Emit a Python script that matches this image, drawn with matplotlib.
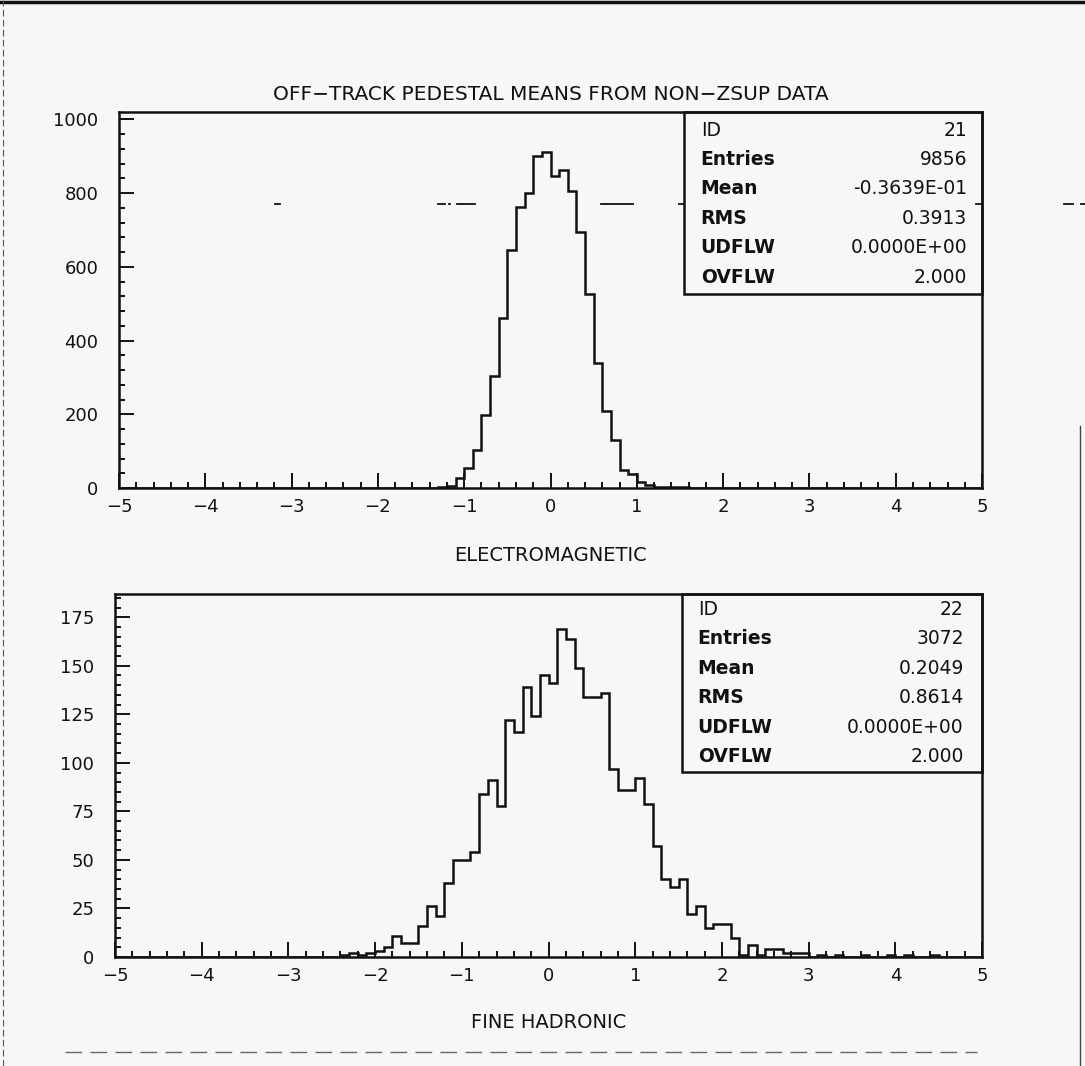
import numpy as np
import matplotlib
matplotlib.use("Agg")
import matplotlib.pyplot as plt
from matplotlib.lines import Line2D
from matplotlib.patches import Rectangle
from matplotlib.ticker import MultipleLocator

# histogram contents, 100 bins of 0.1 from -5 to 5
x_lo, x_hi, n_bins = -5.0, 5.0, 100

em_counts = [
    0, 0, 0, 0, 0, 0, 0, 0, 0, 0,
    0, 0, 0, 0, 0, 0, 0, 0, 0, 0,
    0, 0, 0, 0, 0, 0, 0, 0, 0, 0,
    0, 0, 0, 0, 0, 0, 1, 2, 5, 26,
    53, 102, 198, 304, 462, 646, 762, 799, 900, 912,
    846, 863, 806, 695, 525, 339, 208, 130, 49, 38,
    16, 7, 4, 3, 2, 2, 1, 1, 1, 0,
    0, 0, 0, 0, 0, 0, 0, 0, 0, 0,
    0, 0, 0, 0, 0, 0, 0, 0, 0, 0,
    0, 0, 0, 0, 0, 0, 0, 0, 0, 0,
]

had_counts = [
    0, 0, 0, 0, 0, 0, 0, 0, 0, 0,
    0, 0, 0, 0, 0, 0, 0, 0, 0, 0,
    0, 0, 0, 0, 0, 0, 1, 2, 1, 2,
    3, 5, 11, 7, 7, 16, 26, 21, 38, 50,
    50, 54, 84, 91, 78, 122, 116, 139, 124, 145,
    141, 169, 164, 149, 134, 134, 136, 97, 86, 86,
    92, 79, 57, 40, 36, 40, 22, 26, 15, 17,
    17, 10, 1, 6, 1, 4, 4, 2, 2, 2,
    0, 1, 0, 1, 0, 0, 1, 0, 0, 1,
    0, 1, 0, 0, 1, 0, 0, 0, 0, 0,
]

stat_names = ["ID", "Entries", "Mean", "RMS", "UDFLW", "OVFLW"]
em_stats = ["21", "9856", "-0.3639E-01", "0.3913", "0.0000E+00", "2.000"]
had_stats = ["22", "3072", "0.2049", "0.8614", "0.0000E+00", "2.000"]

# stray dash-dot streak from the scan, upper panel (data x spans)
streak_level = 770
streak_spans = [(-3.19, -3.13), (-1.30, -1.22), (-1.18, -1.16), (-1.08, -0.87),
                (0.58, 0.96), (1.49, 1.55), (4.93, 4.99), (5.95, 6.05), (6.15, 6.22)]

edges = np.linspace(x_lo, x_hi, n_bins + 1)

ink = "#111111"
paper = "#f7f7f7"
plt.rcParams["font.family"] = ["DejaVu Sans"]

fig = plt.figure(figsize=(10.85, 10.66), dpi=100, facecolor=paper)
ax1 = fig.add_axes([0.1097, 0.5422, 0.7954, 0.3527])
ax2 = fig.add_axes([0.1060, 0.1023, 0.7991, 0.3405])


def style_axes(ax, ymax, ymaj, ymin):
    ax.set_facecolor(paper)
    ax.set_xlim(x_lo, x_hi)
    ax.set_ylim(0, ymax)
    ax.xaxis.set_major_locator(MultipleLocator(1))
    ax.xaxis.set_minor_locator(MultipleLocator(0.2))
    ax.yaxis.set_major_locator(MultipleLocator(ymaj))
    ax.yaxis.set_minor_locator(MultipleLocator(ymin))
    ax.tick_params(which="both", direction="in", top=False, right=False,
                   colors=ink, width=1.4)
    ax.tick_params(which="major", length=11, labelsize=13)
    ax.tick_params(which="minor", length=4.5)
    ax.tick_params(axis="x", pad=7)
    ax.tick_params(axis="y", pad=15)
    for s in ax.spines.values():
        s.set_linewidth(1.8)
        s.set_color(ink)


def stat_box(ax, values, x0, y0, ytop, ybot, xl, xr):
    ax.add_patch(Rectangle((x0, y0), 1 - x0, 1 - y0, transform=ax.transAxes,
                           fill=False, lw=1.8, ec=ink, clip_on=False, zorder=5))
    ys = np.linspace(ytop, ybot, len(stat_names))
    for name, val, yy in zip(stat_names, values, ys):
        w = "normal" if name == "ID" else "bold"
        ax.text(xl, yy, name, transform=ax.transAxes, ha="left", va="center",
                fontsize=13.5, fontweight=w, color=ink)
        ax.text(xr, yy, val, transform=ax.transAxes, ha="right", va="center",
                fontsize=13.5, color=ink)


# upper panel
style_axes(ax1, 1020, 200, 40)
ax1.stairs(em_counts, edges, color=ink, lw=1.8)
for a, b in streak_spans:
    ax1.plot([a, b], [streak_level, streak_level], color=ink, lw=1.3, clip_on=False)
ax1.set_title("OFF\u2212TRACK PEDESTAL MEANS FROM NON\u2212ZSUP DATA",
              fontsize=14.5, color=ink, pad=9)
ax1.set_xlabel("ELECTROMAGNETIC", fontsize=14, color=ink)
ax1.xaxis.set_label_coords(0.5, -0.155)
stat_box(ax1, em_stats, 0.655, 0.516, 0.952, 0.561, 0.674, 0.983)

# lower panel
style_axes(ax2, 187, 25, 5)
ax2.stairs(had_counts, edges, color=ink, lw=1.8)
ax2.set_xlabel("FINE HADRONIC", fontsize=14, color=ink)
ax2.xaxis.set_label_coords(0.5, -0.155)
stat_box(ax2, had_stats, 0.654, 0.510, 0.958, 0.552, 0.672, 0.979)

# page edges from the scan
fig.add_artist(Line2D([0, 1], [0.998, 0.998], color=ink, lw=2.5))
fig.add_artist(Line2D([0.003, 0.003], [0.0, 1.0], color="#555555", lw=0.8, ls=(0, (6, 3))))
fig.add_artist(Line2D([0.995, 0.995], [0.0, 0.6], color="#444444", lw=1.0))
fig.add_artist(Line2D([0.06, 0.9], [0.013, 0.013], color="#666666", lw=1.0, ls=(0, (12, 6))))

fig.savefig("out.png", dpi=100, facecolor=paper)
